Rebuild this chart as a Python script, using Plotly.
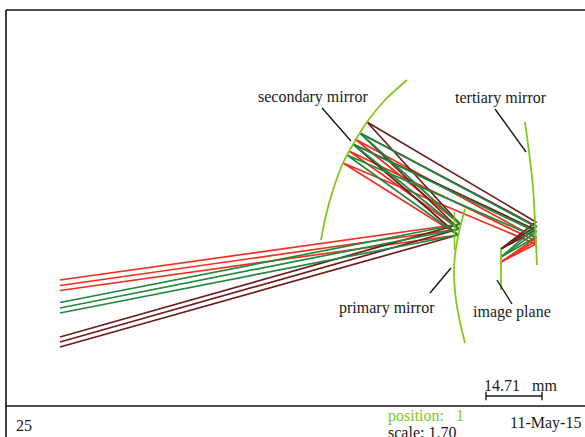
import plotly.graph_objects as go

# Ray-trace layout values (drawing units, y grows downward)
entrance_x = 60
primary_hit_x = [460, 459, 458]
primary_hit_y = [224, 229, 235]

red_entrance_y = [280, 285.5, 290.5]
green_entrance_y = [302.5, 308, 313]
brown_entrance_y = [337, 342, 347]

red_secondary_x = [343, 349, 355]
red_secondary_y = [163, 151, 139]
green_secondary_x = [347, 353, 360]
green_secondary_y = [155, 144, 133]
brown_secondary_x = [353, 360, 367]
brown_secondary_y = [144, 133, 122]

red_tertiary_y = [244, 241, 238]
green_tertiary_y = [237, 232, 227]
brown_tertiary_y = [230, 226, 222]
tertiary_hit_x = 536

image_x = 501
red_image_y = 262
green_image_y = 257
brown_image_y = 249

secondary_mirror_x = [407, 385, 367, 355, 343, 333, 326, 321]
secondary_mirror_y = [80, 100, 122, 141, 163, 190, 215, 240]
primary_mirror_x = [465, 459, 455, 454, 456, 460, 465]
primary_mirror_y = [209, 232, 255, 275, 300, 322, 343]
tertiary_mirror_x = [525, 529, 533, 535, 537]
tertiary_mirror_y = [122, 152, 187, 222, 265]
image_plane_x = [501, 501]
image_plane_y = [249, 290]
stub_x = [454.5, 454.5]
stub_y = [212, 250]

leader_lines = [
    ([322, 351], [108, 141]),
    ([495, 526], [109, 152]),
    ([430, 451], [293, 268]),
    ([497, 512], [280, 304]),
]
scale_x = [486, 542]
scale_y = [396, 396]
scale_label = "14.71   mm"
page_label = "25"
position_label = "position:   1"
scale_text = "scale: 1.70"
date_label = "11-May-15"

RED = "#f0301f"
GREEN = "#1f8a3f"
BROWN = "#6e1c1c"
MIRROR = "#80c81e"
INK = "#1a1a1a"

fig = go.Figure()


def add_line(x, y, color, width=1.7, shape="linear"):
    fig.add_trace(go.Scatter(x=x, y=y, mode="lines", hoverinfo="skip",
                             line=dict(color=color, width=width, shape=shape)))


bundles = [
    (red_entrance_y, red_secondary_x, red_secondary_y, red_tertiary_y, red_image_y, RED),
    (brown_entrance_y, brown_secondary_x, brown_secondary_y, brown_tertiary_y, brown_image_y, BROWN),
    (green_entrance_y, green_secondary_x, green_secondary_y, green_tertiary_y, green_image_y, GREEN),
]
for ent_y, sec_x, sec_y, ter_y, img_y, col in bundles:
    for j in range(3):
        add_line([entrance_x, primary_hit_x[j], sec_x[2 - j], tertiary_hit_x, image_x],
                 [ent_y[j], primary_hit_y[j], sec_y[2 - j], ter_y[2 - j], img_y], col)

for mx, my in [(secondary_mirror_x, secondary_mirror_y), (primary_mirror_x, primary_mirror_y),
               (tertiary_mirror_x, tertiary_mirror_y)]:
    add_line(mx, my, MIRROR, 1.8, "spline")
add_line(image_plane_x, image_plane_y, MIRROR, 1.8)
add_line(stub_x, stub_y, MIRROR, 1.5)
for lx, ly in leader_lines:
    add_line(lx, ly, INK, 1.4)
fig.add_trace(go.Scatter(x=scale_x, y=scale_y, mode="lines+markers", hoverinfo="skip",
                         line=dict(color=INK, width=1.4),
                         marker=dict(symbol="line-ns", size=6, color=INK,
                                     line=dict(color=INK, width=1.4))))

labels = [
    ("secondary mirror", 312.5, 97, INK, 16),
    ("tertiary mirror", 500.5, 98, INK, 16),
    ("primary mirror", 387, 308, INK, 16),
    ("image plane", 511.5, 312, INK, 16),
    (scale_label, 520, 385, INK, 16),
    (page_label, 24, 425, INK, 16),
    (position_label, 426, 416, MIRROR, 16),
    (scale_text, 422, 432, INK, 16),
    (date_label, 545, 423, INK, 16),
]
for text, ax, ay, col, size in labels:
    fig.add_annotation(x=ax, y=ay, text=text.replace("   ", "&nbsp;&nbsp;&nbsp;"), showarrow=False,
                       font=dict(family="Liberation Serif", size=size, color=col))

frame = dict(type="line", xref="x", yref="y", line=dict(color="#111111", width=1.6))
fig.add_shape(x0=6, x1=585, y0=10, y1=10, **frame)
fig.add_shape(x0=6, x1=585, y0=406, y1=406, **frame)
fig.add_shape(x0=6, x1=6, y0=10, y1=437, **frame)

fig.update_layout(
    width=585, height=437, showlegend=False, paper_bgcolor="white", plot_bgcolor="white",
    margin=dict(l=0, r=0, t=0, b=0),
    xaxis=dict(range=[0, 585], visible=False, fixedrange=True),
    yaxis=dict(range=[437, 0], visible=False, fixedrange=True),
)
fig.write_html("out.html", config={"displayModeBar": False},
               post_script="document.body.style.margin='0';document.body.style.overflow='hidden';")
